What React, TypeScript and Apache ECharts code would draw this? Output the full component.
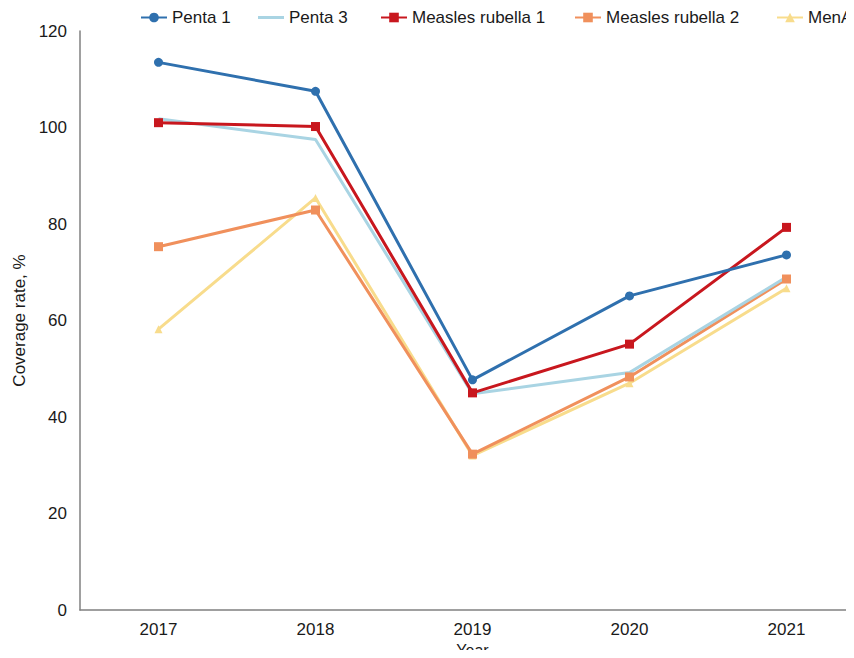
import React, { useEffect, useRef } from "react";
import * as echarts from "echarts";

const years = ["2017", "2018", "2019", "2020", "2021"];
const penta1 = [113.5, 107.5, 47.7, 65.1, 73.6];
const penta3 = [101.8, 97.5, 44.8, 49.2, 69.0];
const measles1 = [101.0, 100.2, 45.0, 55.1, 79.3];
const measles2 = [75.3, 82.9, 32.3, 48.3, 68.6];
const menA = [58.2, 85.4, 32.0, 47.0, 66.7];
const legendNames = ["Penta 1", "Penta 3", "Measles rubella 1", "Measles rubella 2", "MenA"];

const FONT = "'Liberation Sans', Arial, Helvetica, sans-serif";

export default function App() {
  const ref = useRef<HTMLDivElement>(null);
  useEffect(() => {
    if (!ref.current) return;
    const chart = echarts.init(ref.current, null, { renderer: "svg" });
    const mk = (name: string, data: number[], color: string, symbol: string, size: number) => ({
      name,
      type: "line",
      data,
      symbol,
      symbolSize: size,
      showSymbol: symbol !== "none",
      lineStyle: { color, width: 3 },
      itemStyle: { color },
      emphasis: { disabled: true },
    });
    const legendLefts = [140, 258, 380, 574, 776];
    chart.setOption({
      animation: false,
      textStyle: { fontFamily: FONT },
      legend: legendNames.map((n, i) => ({
        left: legendLefts[i],
        top: 9,
        width: 160,
        padding: 0,
        itemWidth: 26,
        itemHeight: n === "Penta 3" ? 3 : 12,
        textStyle: { fontFamily: FONT, fontSize: 17, color: "#1a1a1a" },
        data: [n === "Penta 3" ? { name: n, icon: "rect" } : n],
      })),
      grid: { left: 80, top: 31, bottom: 48, width: 785, outerBoundsMode: "none", containLabel: false },
      xAxis: {
        type: "category",
        data: years,
        boundaryGap: true,
        name: "Year",
        nameLocation: "middle",
        nameGap: 26,
        nameTextStyle: { fontFamily: FONT, fontSize: 16, color: "#1a1a1a", lineHeight: 16 },
        axisLine: { lineStyle: { color: "#808080", width: 1.5 } },
        axisTick: { show: false },
        axisLabel: { fontFamily: FONT, fontSize: 17, color: "#1a1a1a", margin: 11 },
      },
      yAxis: {
        type: "value",
        min: 0,
        max: 120,
        interval: 20,
        name: "Coverage rate, %",
        nameLocation: "middle",
        nameGap: 45,
        nameTextStyle: { fontFamily: FONT, fontSize: 17, color: "#1a1a1a" },
        axisLine: { show: true, lineStyle: { color: "#808080", width: 1.5 } },
        axisTick: { show: false },
        splitLine: { show: false },
        axisLabel: { fontFamily: FONT, fontSize: 17, color: "#1a1a1a", margin: 13 },
      },
      series: [
        mk("MenA", menA, "#f8dc8c", "triangle", 8),
        mk("Measles rubella 2", measles2, "#f0905c", "rect", 9),
        mk("Penta 3", penta3, "#a9d4e3", "none", 0),
        mk("Measles rubella 1", measles1, "#c8171e", "rect", 9),
        mk("Penta 1", penta1, "#2f70ae", "circle", 9),
      ],
    });
    return () => chart.dispose();
  }, []);
  return <div ref={ref} style={{ width: 854, height: 658, margin: -8 }} />;
}
